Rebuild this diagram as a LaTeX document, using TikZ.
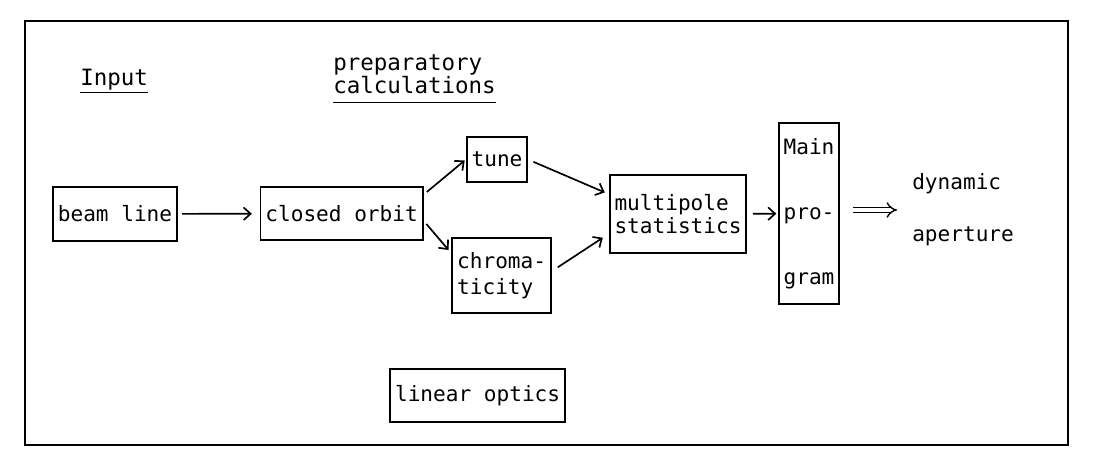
\documentclass[tikz,border=0pt]{standalone}
\usepackage{fontspec}
\setmainfont{DejaVu Sans Mono}
\usetikzlibrary{arrows.meta}
\begin{document}
\begin{tikzpicture}[
            box/.style={draw, rectangle, line width=1.3pt, inner xsep=3.5pt, minimum height=1.33cm, align=center, font=\fontsize{15}{16}\selectfont},
            lbl/.style={inner sep=0pt, align=left, font=\fontsize{16}{16.5}\selectfont},
            arr/.style={-{Straight Barb[length=5pt,width=9pt]}, line width=1.2pt}]

            \useasboundingbox (0,0) rectangle (27.45,11.5);
            \draw[line width=1.4pt] (0.625,0.375) rectangle (26.7,10.975);

            \node[lbl, anchor=base west] (input) at (2.0,9.35) {\underline{Input}};
            \node[lbl, anchor=west] (prep) at (8.325,9.53) {preparatory\\\underline{\strut calculations}};

            \node[box] (beam) at (2.875,6.15) {beam line};
            \node[box] (closed) at (8.54,6.16) {closed orbit};
            \node[box, minimum height=1.125cm] (tune) at (12.425,7.51) {tune};
            \node[box, minimum height=1.875cm, align=left, font=\fontsize{15}{19}\selectfont] (chroma) at (12.54,4.61) {chroma-\\ticity};
            \node[box, minimum height=1.95cm, align=left] (multi) at (16.95,6.15) {multipole\\statistics};
            \node[box, minimum height=4.525cm, font=\fontsize{15}{46}\selectfont] (main) at (20.225,6.16) {Main\\pro-\\gram};
            \node[lbl, font=\fontsize{15}{37}\selectfont] (dyn) at (22.8,6.25) [anchor=west] {dynamic\\aperture};
            \node[box] (linear) at (11.94,1.61) {linear optics};

            \draw[arr, shorten <=3pt, shorten >=5.5pt] (beam) -- (closed);
            \draw[arr, shorten <=3pt, shorten >=1pt] (closed.13) -- (tune.west);
            \draw[arr, shorten <=3pt, shorten >=3pt] (closed.-5) -- (chroma.156);
            \draw[arr, shorten <=4pt, shorten >=3pt] (tune.east) -- (multi.164);
            \draw[arr, shorten <=5pt, shorten >=5pt] (chroma.5) -- (multi.196);
            \draw[arr, shorten <=4pt, shorten >=1pt] (multi) -- (main);
            \draw[double, double distance=2.8pt, line width=1pt, -Implies, shorten <=0.325cm, shorten >=0.375cm] (main.east |- dyn.west) -- (dyn.west);
        \end{tikzpicture}
\end{document}
